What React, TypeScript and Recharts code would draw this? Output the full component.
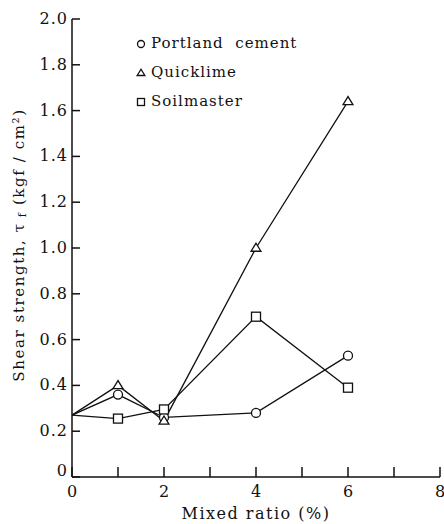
import { LineChart, Line, XAxis, YAxis } from 'recharts';

const mixedRatio = [0, 1, 2, 4, 6];
const portlandCement = [0.27, 0.36, 0.26, 0.28, 0.53];
const quicklime = [0.27, 0.4, 0.245, 1.0, 1.64];
const soilmaster = [0.27, 0.255, 0.295, 0.7, 0.39];

const xTicks = [0, 1, 2, 3, 4, 5, 6, 7, 8];
const yTicks = [0, 0.2, 0.4, 0.6, 0.8, 1.0, 1.2, 1.4, 1.6, 1.8, 2.0];

const data = mixedRatio.map((r, i) => ({
  ratio: r,
  portland: portlandCement[i],
  quicklime: quicklime[i],
  soilmaster: soilmaster[i],
}));

const FONT = '"DejaVu Serif", serif';
const INK = '#111';

type Shape = 'circle' | 'triangle' | 'square';

const series: { key: string; name: string; shape: Shape }[] = [
  { key: 'portland', name: 'Portland  cement', shape: 'circle' },
  { key: 'quicklime', name: 'Quicklime', shape: 'triangle' },
  { key: 'soilmaster', name: 'Soilmaster', shape: 'square' },
];

function Marker({ shape, cx, cy, s }: { shape: Shape; cx: number; cy: number; s: number }) {
  if (shape === 'circle') {
    return <circle cx={cx} cy={cy} r={s} fill="#fff" stroke={INK} strokeWidth={1.3} />;
  }
  if (shape === 'triangle') {
    const h = s * 1.8;
    return (
      <polygon
        points={`${cx},${cy - h * 0.6} ${cx - s * 1.1},${cy + h * 0.4} ${cx + s * 1.1},${cy + h * 0.4}`}
        fill="#fff"
        stroke={INK}
        strokeWidth={1.3}
      />
    );
  }
  return (
    <rect x={cx - s} y={cy - s} width={s * 2} height={s * 2} fill="#fff" stroke={INK} strokeWidth={1.3} />
  );
}

// no marker at the untreated (0 %) point
const makeDot = (shape: Shape) => (props: any) => {
  const { cx, cy, index } = props;
  if (index === 0) return <g key={`d${index}`} />;
  return (
    <g key={`d${index}`}>
      <Marker shape={shape} cx={cx} cy={cy} s={4.5} />
    </g>
  );
};

const XTick = ({ x, y, payload }: any) => (
  <g>
    <line x1={x} y1={y} x2={x} y2={y - 10} stroke={INK} strokeWidth={1.5} />
    {payload.value % 2 === 0 && (
      <text x={x} y={y + 20} textAnchor="middle" fontFamily={FONT} fontSize={16} fill={INK}>
        {payload.value}
      </text>
    )}
  </g>
);

const YTick = ({ x, y, payload }: any) => (
  <g>
    <line x1={x} y1={y} x2={x + 8} y2={y} stroke={INK} strokeWidth={1.5} />
    <text
      x={x - 4}
      y={payload.value === 0 ? y - 1 : y + 5}
      textAnchor="end"
      fontFamily={FONT}
      fontSize={16}
      letterSpacing={1}
      fill={INK}
    >
      {payload.value === 0 ? '0' : payload.value.toFixed(1)}
    </text>
  </g>
);

const YLabel = ({ viewBox }: any) => {
  const cx = 19;
  const cy = viewBox.y + viewBox.height / 2 - 3;
  return (
    <text
      x={cx}
      y={cy}
      transform={`rotate(-90 ${cx} ${cy})`}
      textAnchor="middle"
      dominantBaseline="central"
      fontFamily={FONT}
      fontSize={15}
      letterSpacing={1.6}
      fill={INK}
    >
      Shear strength, τ
      <tspan fontSize={11} dy={3}> f</tspan>
      <tspan dy={-3}>  (kgf / cm²)</tspan>
    </text>
  );
};

function SeriesKey() {
  return (
    <div
      style={{
        position: 'absolute',
        left: 135,
        top: 29,
        fontFamily: FONT,
        fontSize: 15,
        letterSpacing: 1,
        color: INK,
        lineHeight: '29px',
      }}
    >
      {series.map((s) => (
        <div key={s.key} style={{ display: 'flex', alignItems: 'center' }}>
          <svg width={12} height={12} style={{ marginRight: 4 }}>
            <Marker shape={s.shape} cx={6} cy={6} s={3.5} />
          </svg>
          <span style={{ whiteSpace: 'pre' }}>{s.name}</span>
        </div>
      ))}
    </div>
  );
}

export default function App() {
  return (
    <div style={{ position: 'absolute', left: 0, top: 0, width: 444, height: 524, background: '#fff' }}>
      <LineChart
        width={444}
        height={524}
        data={data}
        margin={{ top: 19, right: 4, bottom: 0, left: 0 }}
      >
        <XAxis
          dataKey="ratio"
          type="number"
          domain={[0, 8]}
          ticks={xTicks}
          interval={0}
          height={47}
          tickSize={0}
          tickMargin={0}
          tickLine={false}
          tick={<XTick />}
          axisLine={{ stroke: INK, strokeWidth: 1.5 }}
          label={{
            value: 'Mixed  ratio  (%)',
            position: 'insideBottom',
            offset: 5,
            fontFamily: FONT,
            fontSize: 16,
            letterSpacing: 1.5,
            fill: INK,
            style: { whiteSpace: 'pre' },
          }}
        />
        <YAxis
          type="number"
          domain={[0, 2]}
          ticks={yTicks}
          interval={0}
          width={72}
          tickSize={0}
          tickMargin={0}
          tickLine={false}
          tick={<YTick />}
          axisLine={{ stroke: INK, strokeWidth: 1.5 }}
          label={{ content: YLabel }}
        />
        {series.map((s) => (
          <Line
            key={s.key}
            dataKey={s.key}
            name={s.name}
            stroke={INK}
            strokeWidth={1.3}
            dot={makeDot(s.shape)}
            activeDot={false}
            isAnimationActive={false}
          />
        ))}
      </LineChart>
      <SeriesKey />
    </div>
  );
}
